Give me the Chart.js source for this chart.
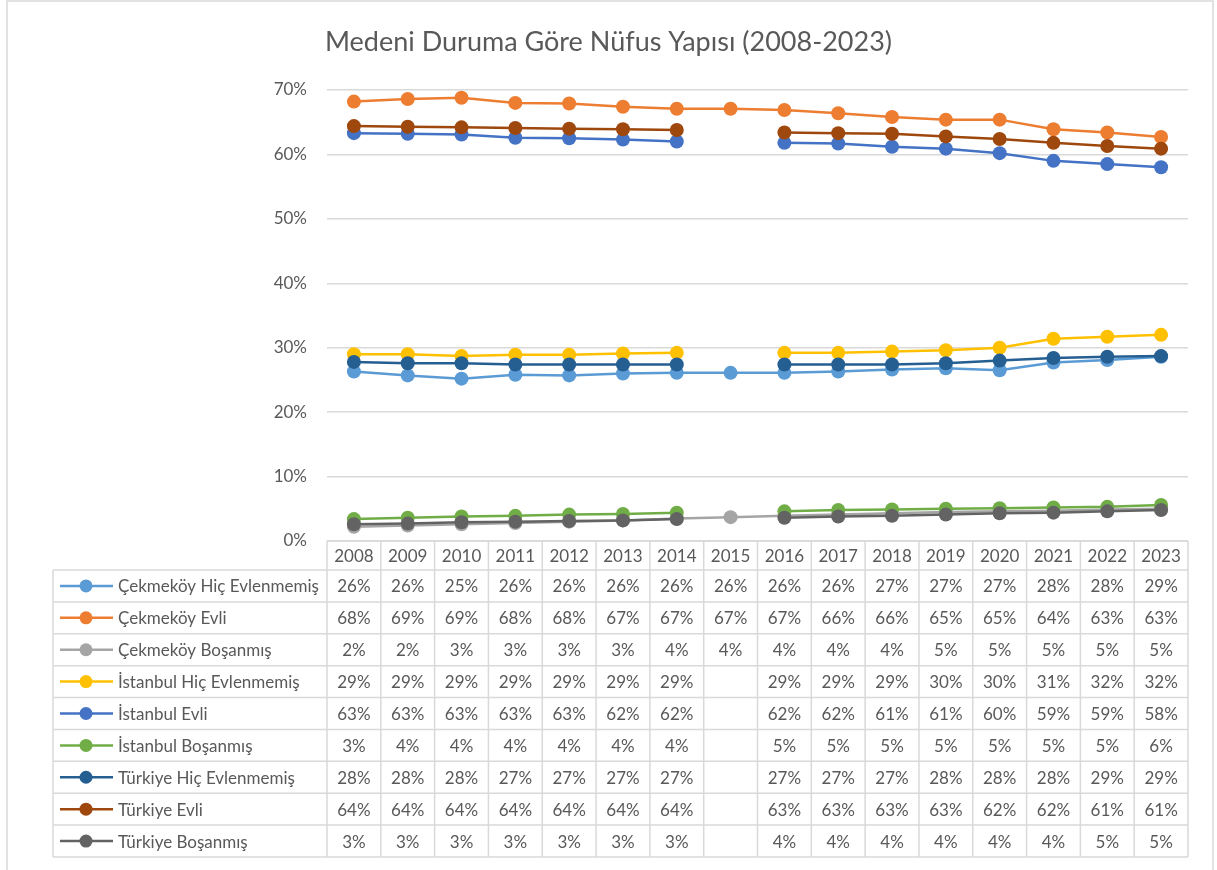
<!DOCTYPE html>
<html>
<head>
<meta charset="utf-8">
<title>Medeni Duruma Göre Nüfus Yapısı</title>
<script src="https://cdn.jsdelivr.net/npm/chart.js@4.4.1/dist/chart.umd.min.js"></script>
<style>
    html, body { margin: 0; padding: 0; background: #ffffff; }
    #myChart { display: block; }
</style>
</head>
<body>
<canvas id="myChart" width="1217" height="870"></canvas>
<script>
/*
    Excel tarzı çizgi grafik + altta veri tablosu
    2015 yılında İstanbul / Türkiye verisi yok (null)
*/

const years = ["2008", "2009", "2010", "2011", "2012", "2013", "2014", "2015",
               "2016", "2017", "2018", "2019", "2020", "2021", "2022", "2023"];

const yTicks = [0, 10, 20, 30, 40, 50, 60, 70];

const seriesNames = ["Çekmeköy Hiç Evlenmemiş", "Çekmeköy Evli", "Çekmeköy Boşanmış",
                     "İstanbul Hiç Evlenmemiş", "İstanbul Evli", "İstanbul Boşanmış",
                     "Türkiye Hiç Evlenmemiş", "Türkiye Evli", "Türkiye Boşanmış"];

// değerler yüzde olarak
const cekmekoyHic = [26.3, 25.7, 25.2, 25.8, 25.7, 26.0, 26.1, 26.1, 26.1, 26.3, 26.6, 26.8, 26.5, 27.7, 28.1, 28.6];
const cekmekoyEvli = [68.2, 68.6, 68.8, 68.0, 67.9, 67.4, 67.1, 67.1, 66.9, 66.4, 65.8, 65.4, 65.4, 63.9, 63.4, 62.7];
const cekmekoyBos = [2.2, 2.4, 2.6, 2.8, 3.0, 3.2, 3.5, 3.7, 3.9, 4.1, 4.3, 4.5, 4.6, 4.7, 4.9, 5.0];
const istanbulHic = [29.0, 29.0, 28.7, 28.9, 28.9, 29.1, 29.2, null, 29.2, 29.2, 29.4, 29.6, 30.0, 31.4, 31.7, 32.0];
const istanbulEvli = [63.3, 63.2, 63.1, 62.6, 62.5, 62.3, 62.0, null, 61.8, 61.7, 61.2, 60.9, 60.2, 59.0, 58.5, 58.0];
const istanbulBos = [3.4, 3.6, 3.8, 3.9, 4.1, 4.2, 4.4, null, 4.6, 4.8, 4.9, 5.0, 5.1, 5.2, 5.3, 5.6];
const turkiyeHic = [27.8, 27.6, 27.6, 27.4, 27.4, 27.4, 27.4, null, 27.4, 27.4, 27.4, 27.6, 28.0, 28.4, 28.6, 28.7];
const turkiyeEvli = [64.4, 64.3, 64.2, 64.1, 64.0, 63.9, 63.8, null, 63.4, 63.3, 63.2, 62.8, 62.4, 61.8, 61.3, 60.9];
const turkiyeBos = [2.6, 2.7, 2.9, 3.0, 3.1, 3.2, 3.4, null, 3.6, 3.8, 3.9, 4.1, 4.3, 4.4, 4.6, 4.8];

const seriesValues = [cekmekoyHic, cekmekoyEvli, cekmekoyBos,
                      istanbulHic, istanbulEvli, istanbulBos,
                      turkiyeHic, turkiyeEvli, turkiyeBos];

const seriesColors = ["#5B9BD5", "#ED7D31", "#A5A5A5",
                      "#FFC000", "#4472C4", "#70AD47",
                      "#255E91", "#9E480E", "#636363"];

const FONT = "Lato, 'Open Sans', sans-serif";
const TEXT = "#595959";
const LINE = "#D9D9D9";

// tablo ölçüleri
const tableLeft = 53;
const tableBottom = 857;
const headerH = 29;

const dataTablePlugin = { // veri tablosu + legend anahtarları
    id: "dataTable",
    beforeDraw(chart){
        const ctx = chart.ctx;
        ctx.save();
        ctx.strokeStyle = LINE;
        ctx.lineWidth = 1.5;
        ctx.beginPath(); // grafik çerçevesi
        ctx.moveTo(7, 875);
        ctx.lineTo(7, 1);
        ctx.lineTo(1213, 1);
        ctx.lineTo(1213, 875);
        ctx.stroke();
        ctx.restore();
    },
    afterDraw(chart){
        const ctx = chart.ctx;
        const x = chart.scales.x;
        const top = chart.chartArea.bottom;
        const colW = (x.right - x.left) / years.length;
        const rowTop = top + headerH;
        const rowH = (tableBottom - rowTop) / seriesNames.length;

        ctx.save();
        ctx.strokeStyle = LINE;
        ctx.lineWidth = 1.5;
        ctx.beginPath();
        // üst çizgi (başlık satırı)
        ctx.moveTo(x.left, top);
        ctx.lineTo(x.right, top);
        // yatay satır çizgileri
        for(let i = 0; i <= seriesNames.length; i++){
            const yy = rowTop + i * rowH;
            ctx.moveTo(tableLeft, yy);
            ctx.lineTo(x.right, yy);
        }
        // dikey çizgiler
        ctx.moveTo(tableLeft, rowTop);
        ctx.lineTo(tableLeft, tableBottom);
        for(let i = 0; i <= years.length; i++){
            const xx = x.left + i * colW;
            ctx.moveTo(xx, top);
            ctx.lineTo(xx, tableBottom);
        }
        ctx.stroke();

        ctx.fillStyle = TEXT;
        ctx.font = "17px " + FONT;
        ctx.textBaseline = "middle";
        ctx.textAlign = "center";
        years.forEach((yr, i) => {
            ctx.fillText(yr, x.getPixelForValue(i), top + headerH / 2 + 1);
        });

        seriesNames.forEach((name, s) => {
            const cy = rowTop + (s + 0.5) * rowH;
            // anahtar
            ctx.strokeStyle = seriesColors[s];
            ctx.lineWidth = 2.5;
            ctx.beginPath();
            ctx.moveTo(60, cy);
            ctx.lineTo(113, cy);
            ctx.stroke();
            ctx.fillStyle = seriesColors[s];
            ctx.beginPath();
            ctx.arc(86, cy, 6.5, 0, Math.PI * 2);
            ctx.fill();

            ctx.fillStyle = TEXT;
            ctx.textAlign = "left";
            ctx.fillText(name, 118, cy + 1);
            ctx.textAlign = "center";
            seriesValues[s].forEach((v, i) => {
                if(v === null) return;
                ctx.fillText(Math.round(v) + "%", x.getPixelForValue(i), cy + 1);
            });
        });
        ctx.restore();
    }
};

drawChart();

function drawChart(){
    const ctx = document.querySelector("#myChart");

    const datasets = seriesNames.map((name, i) => ({
        label: name,
        data: seriesValues[i],
        borderColor: seriesColors[i],
        backgroundColor: seriesColors[i],
        borderWidth: 2.5,
        pointRadius: 7,
        pointHoverRadius: 7,
        pointBorderWidth: 0,
        tension: 0,
        spanGaps: false,
        order: seriesNames.length - i // sonraki seri üstte
    }));

    new Chart(ctx, {
        type: "line",
        data: {
            labels: years,
            datasets: datasets
        },
        options: {
            responsive: false,
            animation: false,
            devicePixelRatio: 1,
            layout: { padding: 0 },
            plugins: {
                legend: { display: false },
                tooltip: { enabled: false },
                title: {
                    display: true,
                    text: "Medeni Duruma Göre Nüfus Yapısı (2008-2023)",
                    color: TEXT,
                    font: { family: FONT, size: 27, weight: "normal", lineHeight: 1.2 },
                    padding: { top: 26, bottom: 31.6 }
                }
            },
            scales: {
                x: {
                    offset: true,
                    grid: { display: false },
                    border: { display: false },
                    ticks: { display: false },
                    afterFit(scale){ scale.height = 329; }
                },
                y: {
                    min: 0,
                    max: 70,
                    afterBuildTicks(scale){ scale.ticks = yTicks.map(v => ({ value: v })); },
                    grid: { color: LINE, lineWidth: 1.5, drawTicks: false },
                    border: { display: false },
                    ticks: {
                        color: TEXT,
                        padding: 20,
                        font: { family: FONT, size: 17 },
                        callback: (v) => v + "%"
                    },
                    afterFit(scale){ scale.width = 327; }
                },
                yRight: { // sağdaki boşluk için boş eksen
                    position: "right",
                    grid: { display: false },
                    border: { display: false },
                    ticks: { display: false },
                    afterFit(scale){ scale.width = 29; }
                }
            }
        },
        plugins: [dataTablePlugin]
    });
}
</script>
</body>
</html>
